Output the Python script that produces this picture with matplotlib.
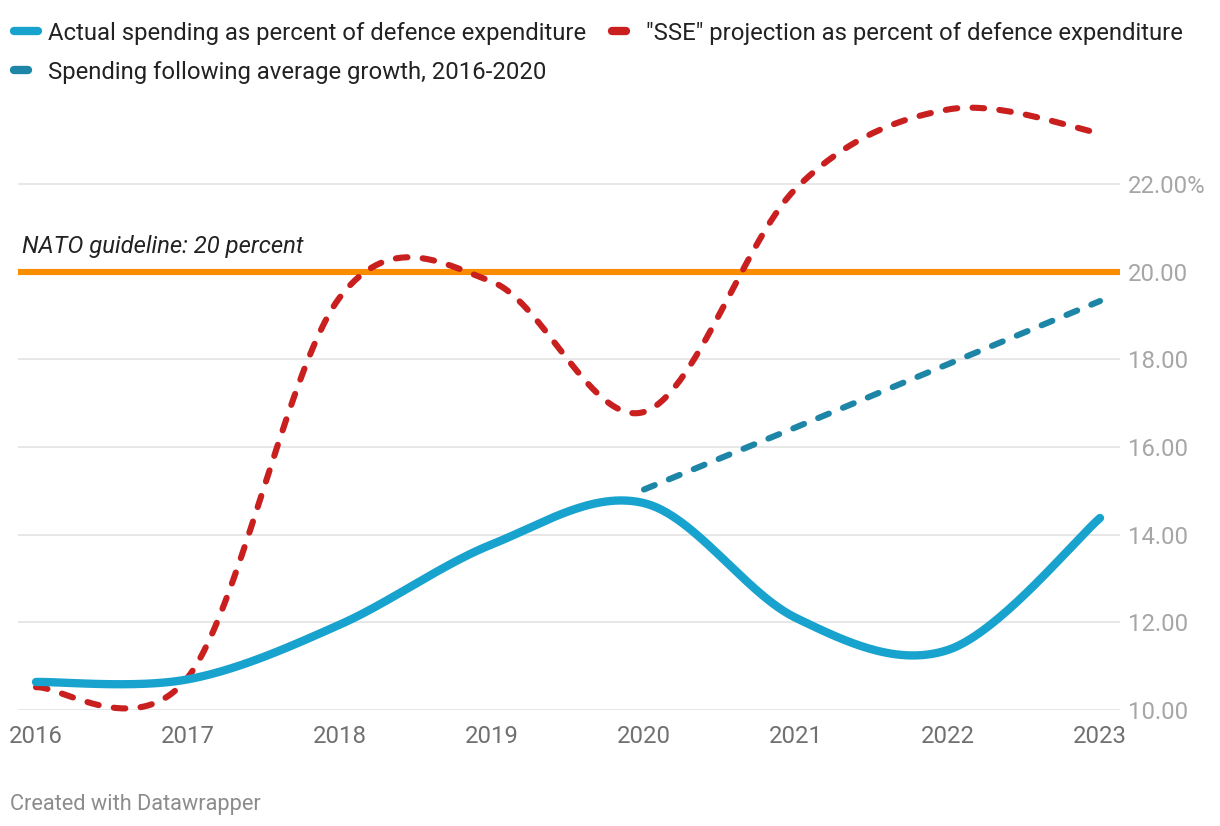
import numpy as np
import matplotlib
matplotlib.use("Agg")
import matplotlib.pyplot as plt
from matplotlib.lines import Line2D

plt.rcParams['font.family'] = ['Roboto', 'DejaVu Sans']

# data
years = [2016, 2017, 2018, 2019, 2020, 2021, 2022, 2023]
actual = [10.64, 10.70, 11.95, 13.78, 14.72, 12.10, 11.37, 14.38]
sse = [10.52, 10.75, 19.42, 19.77, 16.80, 21.90, 23.70, 23.16]
avg_years = [2020, 2021, 2022, 2023]
avg_growth = [15.03, 16.45, 17.89, 19.33]
nato = 20
yticks = [10, 12, 14, 16, 18, 20, 22]
ytick_labels = ["10.00", "12.00", "14.00", "16.00", "18.00", "20.00", "22.00%"]

BLUE = "#18a3cf"
RED = "#c91f1f"
TEAL = "#1d86a7"
ORANGE = "#fa8c00"
FS = 17.2


def cardinal(x, y, n=60):
    # cardinal / catmull-rom curve (tension 0), endpoints duplicated like d3
    p = np.column_stack([x, y]).astype(float)
    pp = np.vstack([p[:1], p, p[-1:]])
    m = (pp[2:] - pp[:-2]) / 2
    t = np.linspace(0, 1, n)[:, None]
    h00 = 2 * t**3 - 3 * t**2 + 1
    h10 = t**3 - 2 * t**2 + t
    h01 = -2 * t**3 + 3 * t**2
    h11 = t**3 - t**2
    segs = [h00 * p[i] + h10 * m[i] + h01 * p[i + 1] + h11 * m[i + 1]
            for i in range(len(p) - 1)]
    out = np.vstack(segs)
    return out[:, 0], out[:, 1]


W, H = 1220, 826
fig = plt.figure(figsize=(W / 100, H / 100), dpi=100)

# axes in pixel terms: grid runs x 18..1120, y=10 at 710
ax_l, ax_r, ax_b, ax_t = 18, 1120, 710, 90
ax = fig.add_axes([ax_l / W, (H - ax_b) / H, (ax_r - ax_l) / W, (ax_b - ax_t) / H])
ppy = (1100 - 36) / 7
ax.set_xlim(2016 - (36 - ax_l) / ppy, 2023 + (ax_r - 1100) / ppy)
ppu = (710 - 184) / 12
ax.set_ylim(10, 10 + (ax_b - ax_t) / ppu)

for s in ax.spines.values():
    s.set_visible(False)

ax.yaxis.tick_right()
ax.set_yticks(yticks)
ax.set_yticklabels(ytick_labels)
ax.set_xticks(years)
ax.set_xticklabels([str(y) for y in years])
ax.tick_params(axis='y', length=0, pad=6, labelsize=FS, labelcolor="#a6a6a6")
ax.tick_params(axis='x', length=0, pad=11, labelsize=FS, labelcolor="#707070")
for lab in ax.get_yticklabels():
    lab.set_horizontalalignment('left')
ax.grid(axis='y', color="#e3e3e3", lw=1.2)
ax.grid(axis='x', visible=False)
ax.set_axisbelow(True)

ax.axhline(nato, color=ORANGE, lw=4.4, zorder=2)
ax.text(2016 - 14 / ppy, nato + 0.32, "NATO guideline: 20 percent", style='italic',
        fontsize=FS, color="#222222", ha='left', va='bottom')

xs, ys = cardinal(years, sse)
ax.plot(xs, ys, color=RED, lw=4.4, ls=(0, (1.9, 2.5)), dash_capstyle='round',
        solid_capstyle='round', zorder=3, clip_on=False)

ax.plot(avg_years, avg_growth, color=TEAL, lw=4.4, ls=(0, (1.9, 2.5)),
        dash_capstyle='round', zorder=3, clip_on=False)

xs, ys = cardinal(years, actual)
ax.plot(xs, ys, color=BLUE, lw=6, solid_capstyle='round', zorder=4, clip_on=False)


# legend drawn by hand
def legend_item(x0, x1, xt, y, color, lw, text):
    fig.add_artist(Line2D([x0 / W, x1 / W], [1 - y / H, 1 - y / H], color=color, lw=lw,
                          solid_capstyle='round'))
    fig.text(xt / W, 1 - y / H, text, fontsize=FS, color="#222222", ha='left',
             va='center_baseline')


legend_item(14, 38, 48, 31, BLUE, 6, "Actual spending as percent of defence expenditure")
legend_item(612, 626, 646, 31, RED, 6, "\"SSE\" projection as percent of defence expenditure")
legend_item(14, 28, 48, 70, TEAL, 6, "Spending following average growth, 2016-2020")

fig.text(10 / W, 1 - 802 / H, "Created with Datawrapper", fontsize=15.7, color="#8c8c8c",
         ha='left', va='center_baseline')

fig.savefig("out.png", dpi=100)
